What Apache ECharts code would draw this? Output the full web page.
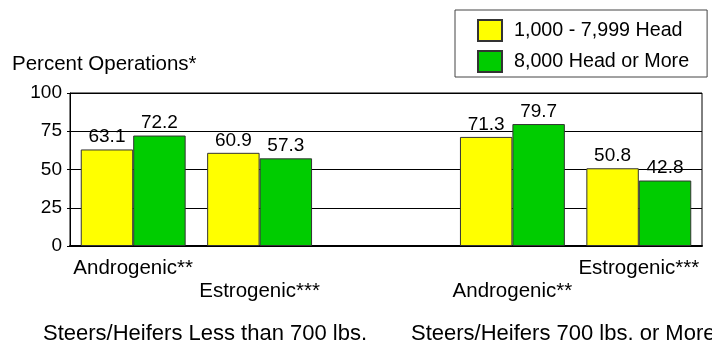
<!DOCTYPE html>
<html>
<head>
<meta charset="utf-8">
<script src="https://cdn.jsdelivr.net/npm/echarts@6/dist/echarts.min.js"></script>
<style>
  html, body { margin: 0; padding: 0; background: #fff; }
  #chart { width: 712px; height: 345px; }
</style>
</head>
<body>
<div id="chart"></div>
<script>
// Implant use by feedlot size; the empty middle slot separates the two weight classes
const categories = ['Androgenic**', 'Estrogenic***', '', 'Androgenic**', 'Estrogenic***'];
const smallLots = [63.1, 60.9, null, 71.3, 50.8];
const largeLots = [72.2, 57.3, null, 79.7, 42.8];
const seriesNames = ['1,000 - 7,999 Head', '8,000 Head or More'];
const groupTitles = ['Steers/Heifers Less than 700 lbs.', 'Steers/Heifers 700 lbs. or More'];
const yTicks = [0, 25, 50, 75, 100];
const yTitle = 'Percent Operations*';

const FONT = "'Liberation Sans', Arial, Helvetica, sans-serif";
const FS = 19;         // values and ticks
const FS_CAT = 20.5;   // category labels
const FS_LEG = 19.7;   // legend
const FS_YT = 20.5;    // axis title
const FS_GROUP = 22;   // weight-class titles

const chart = echarts.init(document.getElementById('chart'), null, { renderer: 'canvas' });

function barSeries(name, data, color) {
  return {
    name: name,
    type: 'bar',
    data: data,
    barGap: '0%',
    barCategoryGap: '17%',
    itemStyle: { color: color, borderColor: '#333', borderWidth: 1 },
    label: {
      show: true,
      position: 'top',
      distance: 3,
      color: '#000',
      fontFamily: FONT,
      fontSize: FS,
      formatter: p => p.value == null ? '' : p.value.toFixed(1)
    },
    emphasis: { disabled: true }
  };
}

chart.setOption({
  animation: false,
  textStyle: { fontFamily: FONT },
  grid: {
    left: 70, right: 10, top: 93, bottom: 99,
    show: true, borderColor: '#000', borderWidth: 1, backgroundColor: 'transparent'
  },
  legend: {
    orient: 'vertical',
    left: 455, top: 10,
    padding: [9, 18, 4, 22],
    itemWidth: 24, itemHeight: 21,
    itemGap: 8,
    backgroundColor: '#fff',
    borderColor: '#444', borderWidth: 1,
    icon: 'rect',
    textStyle: { fontFamily: FONT, fontSize: FS_LEG, color: '#000', padding: [0, 0, 0, 7], width: 170 },
    data: seriesNames
  },
  xAxis: {
    type: 'category',
    data: categories,
    axisLine: { lineStyle: { color: '#000', width: 2 } },
    axisTick: { show: false },
    axisLabel: {
      interval: 0,
      margin: 11,
      color: '#000',
      fontFamily: FONT,
      fontSize: FS_CAT,
      lineHeight: 23,
      // staggered labels: even slots on the first row, odd slots on the second
      formatter: (v, i) => (i % 2 === 1 ? '\n' + v : v)
    }
  },
  yAxis: {
    type: 'value',
    min: yTicks[0],
    max: yTicks[yTicks.length - 1],
    interval: yTicks[1] - yTicks[0],
    axisLine: { show: true, lineStyle: { color: '#000', width: 1 } },
    axisTick: { show: true, length: 3, lineStyle: { color: '#000' } },
    splitLine: { lineStyle: { color: '#000', width: 1 } },
    axisLabel: { margin: 8, color: '#000', fontFamily: FONT, fontSize: FS }
  },
  graphic: [
    { type: 'text', x: 12, y: 64, style: { text: yTitle, font: FS_YT + 'px ' + FONT, fill: '#000', verticalAlign: 'middle' } },
    { type: 'text', x: 43, y: 334, style: { text: groupTitles[0], font: FS_GROUP + 'px ' + FONT, fill: '#000', verticalAlign: 'middle' } },
    { type: 'text', x: 411, y: 334, style: { text: groupTitles[1], font: FS_GROUP + 'px ' + FONT, fill: '#000', verticalAlign: 'middle' } }
  ],
  series: [
    barSeries(seriesNames[0], smallLots, '#FFFF00'),
    barSeries(seriesNames[1], largeLots, '#00CC00')
  ]
});
</script>
</body>
</html>
